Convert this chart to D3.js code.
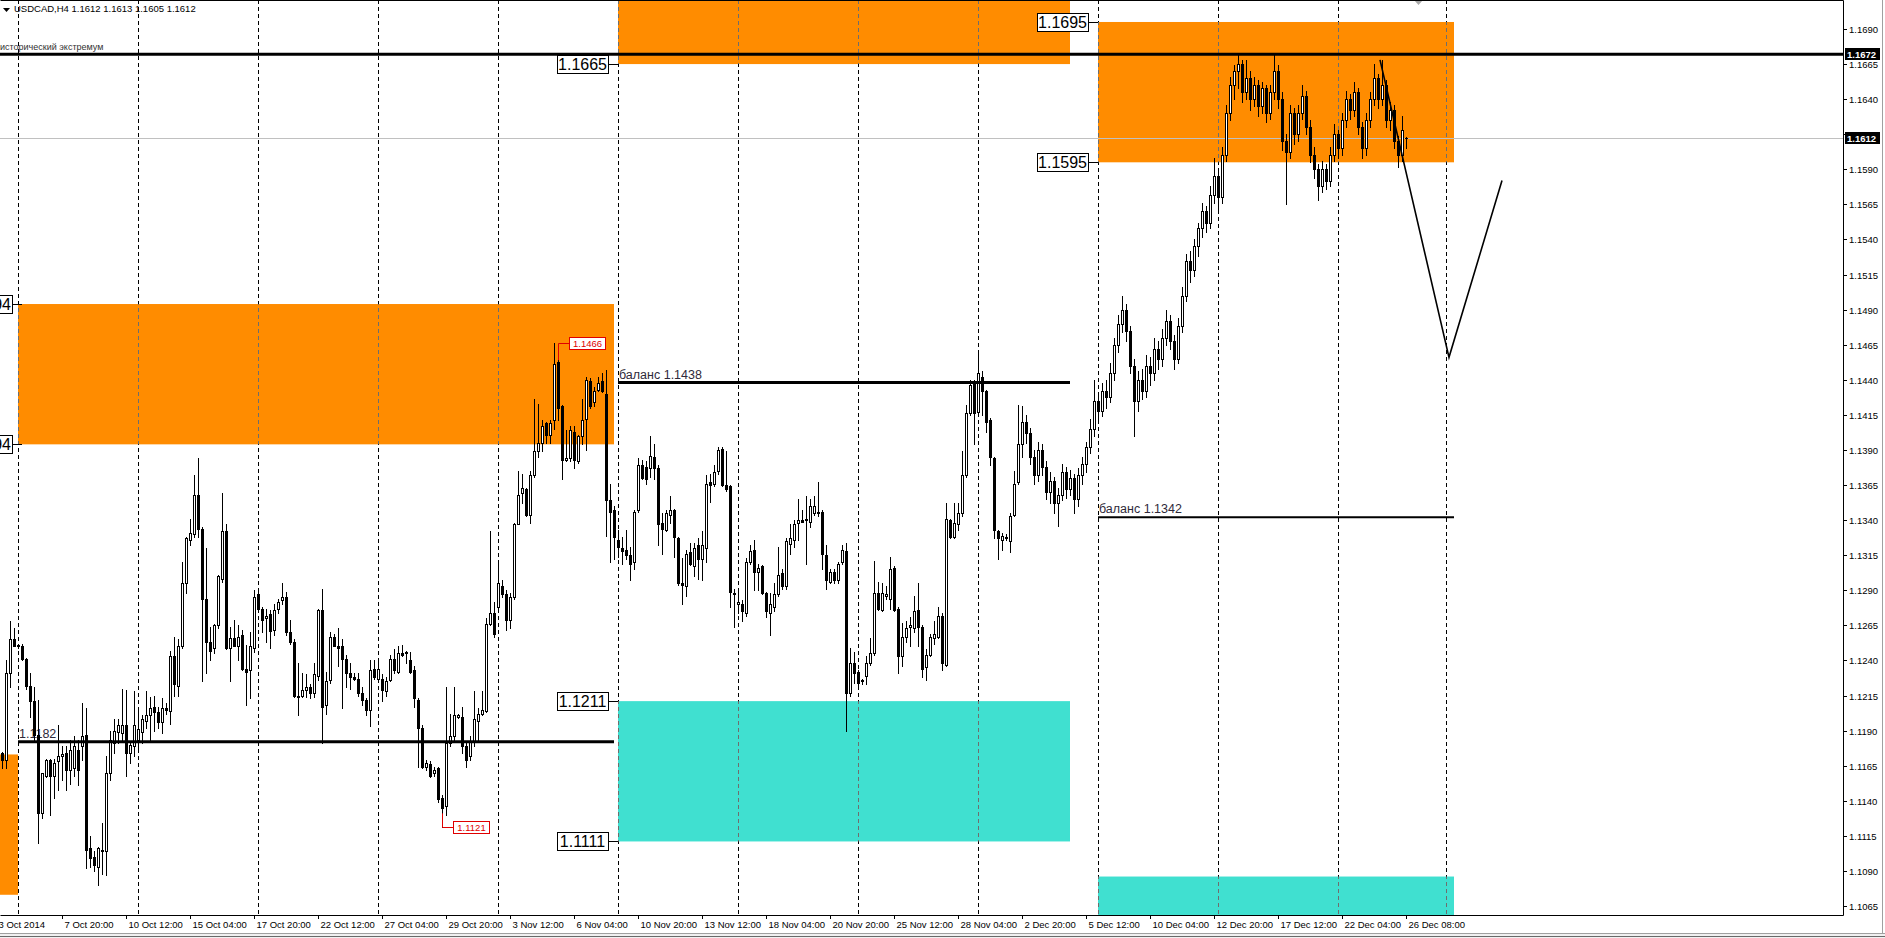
<!DOCTYPE html>
<html><head><meta charset="utf-8">
<script src="https://cdn.jsdelivr.net/npm/d3@7"></script>
<style>
html,body{margin:0;padding:0;background:#fff;overflow:hidden;}
svg{display:block;}
text{font-family:"Liberation Sans",Arial,sans-serif;}
</style></head><body>
<svg id="chart" width="1885" height="938"></svg>
<script>
// USDCAD H4 candles, bar 0 = 3 Oct 2014 08:00, last bar = 26 Dec 2014 08:00
const opens = [1.1174,1.1169,1.1231,1.1255,1.1250,1.1250,1.1241,1.1222,1.1211,1.1187,
1.1131,1.1158,1.1169,1.1158,1.1168,1.1172,1.1174,1.1162,1.1163,1.1176,
1.1179,1.1187,1.1106,1.1100,1.1093,1.1105,1.1104,1.1160,1.1181,1.1189,
1.1188,1.1194,1.1174,1.1179,1.1183,1.1189,1.1197,1.1201,1.1207,1.1203,
1.1196,1.1206,1.1204,1.1243,1.1222,1.1250,1.1295,1.1326,1.1330,1.1358,
1.1334,1.1284,1.1253,1.1249,1.1265,1.1298,1.1332,1.1249,1.1256,1.1250,
1.1258,1.1234,1.1233,1.1249,1.1287,1.1277,1.1270,1.1273,1.1262,1.1277,
1.1283,1.1285,1.1260,1.1253,1.1215,1.1215,1.1219,1.1221,1.1217,1.1229,
1.1276,1.1208,1.1226,1.1257,1.1250,1.1250,1.1241,1.1231,1.1228,1.1227,
1.1217,1.1212,1.1205,1.1234,1.1227,1.1227,1.1218,1.1226,1.1241,1.1232,
1.1245,1.1245,1.1240,1.1233,1.1212,1.1192,1.1164,1.1166,1.1160,1.1163,
1.1142,1.1136,1.1181,1.1186,1.1200,1.1200,1.1179,1.1172,1.1182,1.1197,
1.1202,1.1204,1.1266,1.1274,1.1278,1.1293,1.1287,1.1269,1.1285,1.1337,
1.1359,1.1362,1.1344,1.1372,1.1389,1.1395,1.1409,1.1401,1.1411,1.1453,
1.1421,1.1383,1.1384,1.1403,1.1382,1.1400,1.1412,1.1439,1.1424,1.1433,
1.1439,1.1430,1.1354,1.1347,1.1326,1.1320,1.1319,1.1315,1.1310,1.1347,
1.1379,1.1378,1.1377,1.1385,1.1377,1.1338,1.1333,1.1344,1.1347,1.1327,
1.1295,1.1293,1.1317,1.1307,1.1322,1.1312,1.1320,1.1367,1.1366,1.1375,
1.1391,1.1365,1.1364,1.1288,1.1280,1.1280,1.1274,1.1310,1.1319,1.1303,
1.1307,1.1288,1.1274,1.1278,1.1287,1.1302,1.1293,1.1323,1.1326,1.1338,
1.1340,1.1340,1.1339,1.1345,1.1346,1.1346,1.1315,1.1296,1.1303,1.1297,
1.1310,1.1318,1.1217,1.1238,1.1232,1.1225,1.1229,1.1238,1.1245,1.1288,
1.1276,1.1286,1.1284,1.1306,1.1277,1.1243,1.1257,1.1264,1.1263,1.1276,
1.1264,1.1235,1.1244,1.1256,1.1257,1.1272,1.1237,1.1340,1.1328,1.1337,
1.1345,1.1372,1.1416,1.1438,1.1417,1.1442,1.1432,1.1411,1.1384,1.1332,
1.1326,1.1327,1.1325,1.1344,1.1367,1.1394,1.1410,1.1402,1.1385,1.1372,
1.1390,1.1378,1.1360,1.1368,1.1352,1.1358,1.1374,1.1362,1.1370,1.1355,
1.1372,1.1380,1.1392,1.1405,1.1425,1.1418,1.1432,1.1428,1.1445,1.1465,
1.1480,1.1490,1.1475,1.1450,1.1425,1.1440,1.1432,1.1450,1.1445,1.1462,
1.1455,1.1470,1.1482,1.1468,1.1455,1.1478,1.1500,1.1525,1.1518,1.1535,
1.1548,1.1560,1.1552,1.1572,1.1585,1.1570,1.1600,1.1630,1.1650,1.1660,
1.1665,1.1645,1.1655,1.1640,1.1650,1.1635,1.1648,1.1630,1.1645,1.1660,
1.1640,1.1610,1.1602,1.1630,1.1615,1.1630,1.1642,1.1620,1.1600,1.1590,
1.1578,1.1590,1.1582,1.1600,1.1615,1.1605,1.1625,1.1640,1.1632,1.1645,
1.1620,1.1605,1.1625,1.1640,1.1655,1.1640,1.1650,1.1625,1.1632,1.1610,
1.1600,1.1612];
const highs = [1.1175,1.1240,1.1268,1.1263,1.1252,1.1252,1.1242,1.1231,1.1221,1.1212,
1.1160,1.1170,1.1170,1.1170,1.1194,1.1179,1.1179,1.1183,1.1186,1.1183,
1.1210,1.1206,1.1115,1.1104,1.1107,1.1124,1.1172,1.1190,1.1198,1.1198,
1.1220,1.1219,1.1181,1.1218,1.1205,1.1201,1.1218,1.1214,1.1215,1.1207,
1.1213,1.1210,1.1247,1.1257,1.1255,1.1310,1.1328,1.1341,1.1372,1.1384,
1.1335,1.1320,1.1264,1.1266,1.1301,1.1359,1.1337,1.1264,1.1269,1.1265,
1.1262,1.1251,1.1260,1.1290,1.1291,1.1278,1.1277,1.1276,1.1280,1.1284,
1.1295,1.1289,1.1269,1.1255,1.1238,1.1231,1.1230,1.1223,1.1238,1.1277,
1.1291,1.1232,1.1260,1.1259,1.1263,1.1255,1.1244,1.1238,1.1231,1.1231,
1.1221,1.1213,1.1240,1.1240,1.1241,1.1230,1.1228,1.1244,1.1248,1.1250,
1.1251,1.1247,1.1246,1.1236,1.1213,1.1194,1.1169,1.1168,1.1164,1.1164,
1.1144,1.1221,1.1202,1.1221,1.1202,1.1207,1.1181,1.1186,1.1218,1.1206,
1.1218,1.1270,1.1332,1.1282,1.1310,1.1297,1.1290,1.1288,1.1338,1.1375,
1.1373,1.1363,1.1375,1.1426,1.1423,1.1411,1.1410,1.1411,1.1466,1.1454,
1.1422,1.1404,1.1407,1.1407,1.1401,1.1426,1.1442,1.1441,1.1435,1.1442,
1.1445,1.1447,1.1366,1.1350,1.1333,1.1328,1.1333,1.1321,1.1347,1.1384,
1.1383,1.1382,1.1400,1.1394,1.1379,1.1345,1.1347,1.1357,1.1348,1.1328,
1.1313,1.1319,1.1324,1.1324,1.1327,1.1332,1.1372,1.1373,1.1379,1.1392,
1.1392,1.1389,1.1365,1.1291,1.1290,1.1283,1.1313,1.1322,1.1326,1.1309,
1.1308,1.1289,1.1288,1.1295,1.1321,1.1305,1.1327,1.1337,1.1340,1.1355,
1.1347,1.1357,1.1355,1.1357,1.1367,1.1347,1.1322,1.1305,1.1305,1.1310,
1.1322,1.1324,1.1249,1.1246,1.1233,1.1227,1.1243,1.1256,1.1311,1.1296,
1.1295,1.1293,1.1314,1.1307,1.1278,1.1267,1.1268,1.1271,1.1286,1.1295,
1.1265,1.1248,1.1259,1.1268,1.1278,1.1274,1.1352,1.1341,1.1352,1.1352,
1.1389,1.1422,1.1440,1.1440,1.1459,1.1446,1.1433,1.1413,1.1385,1.1333,
1.1331,1.1330,1.1345,1.1375,1.1422,1.1421,1.1415,1.1406,1.1390,1.1396,
1.1394,1.1382,1.1374,1.1371,1.1363,1.1380,1.1378,1.1376,1.1373,1.1377,
1.1385,1.1396,1.1412,1.1440,1.1430,1.1438,1.1440,1.1452,1.1470,1.1486,
1.1500,1.1494,1.1478,1.1455,1.1446,1.1448,1.1458,1.1456,1.1470,1.1468,
1.1476,1.1490,1.1486,1.1472,1.1484,1.1506,1.1530,1.1532,1.1540,1.1552,
1.1566,1.1564,1.1578,1.1598,1.1590,1.1606,1.1636,1.1656,1.1664,1.1672,
1.1668,1.1668,1.1660,1.1656,1.1654,1.1652,1.1650,1.1650,1.1672,1.1664,
1.1645,1.1615,1.1636,1.1634,1.1636,1.1650,1.1646,1.1625,1.1606,1.1594,
1.1596,1.1594,1.1606,1.1622,1.1618,1.1630,1.1646,1.1644,1.1652,1.1648,
1.1624,1.1630,1.1645,1.1665,1.1658,1.1668,1.1654,1.1638,1.1636,1.1614,
1.1628,1.1613];
const lows = [1.1163,1.1163,1.1221,1.1250,1.1249,1.1240,1.1220,1.1200,1.1183,1.1110,
1.1128,1.1157,1.1130,1.1142,1.1148,1.1155,1.1148,1.1152,1.1158,1.1151,
1.1169,1.1092,1.1093,1.1090,1.1080,1.1088,1.1087,1.1155,1.1174,1.1181,
1.1183,1.1158,1.1167,1.1172,1.1176,1.1181,1.1192,1.1183,1.1190,1.1192,
1.1188,1.1202,1.1195,1.1215,1.1215,1.1249,1.1288,1.1322,1.1328,1.1328,
1.1225,1.1231,1.1240,1.1245,1.1263,1.1296,1.1248,1.1225,1.1250,1.1240,
1.1233,1.1208,1.1213,1.1246,1.1276,1.1260,1.1253,1.1249,1.1258,1.1274,
1.1280,1.1258,1.1252,1.1214,1.1201,1.1214,1.1214,1.1213,1.1214,1.1226,
1.1181,1.1202,1.1224,1.1250,1.1236,1.1206,1.1221,1.1220,1.1226,1.1215,
1.1208,1.1201,1.1193,1.1227,1.1226,1.1211,1.1215,1.1225,1.1231,1.1231,
1.1243,1.1238,1.1231,1.1207,1.1164,1.1163,1.1162,1.1157,1.1158,1.1139,
1.1121,1.1130,1.1179,1.1183,1.1199,1.1174,1.1164,1.1169,1.1179,1.1183,
1.1201,1.1203,1.1265,1.1257,1.1276,1.1285,1.1262,1.1263,1.1284,1.1337,
1.1352,1.1343,1.1338,1.1371,1.1385,1.1389,1.1395,1.1395,1.1405,1.1411,
1.1369,1.1382,1.1382,1.1377,1.1381,1.1394,1.1390,1.1420,1.1421,1.1432,
1.1431,1.1329,1.1310,1.1312,1.1314,1.1309,1.1312,1.1297,1.1305,1.1346,
1.1369,1.1366,1.1371,1.1369,1.1322,1.1316,1.1332,1.1338,1.1314,1.1294,
1.1280,1.1286,1.1308,1.1300,1.1298,1.1297,1.1310,1.1353,1.1364,1.1373,
1.1364,1.1361,1.1278,1.1264,1.1274,1.1268,1.1272,1.1309,1.1290,1.1290,
1.1287,1.1271,1.1258,1.1275,1.1286,1.1291,1.1291,1.1316,1.1321,1.1326,
1.1339,1.1309,1.1335,1.1344,1.1343,1.1305,1.1291,1.1295,1.1295,1.1295,
1.1309,1.1190,1.1215,1.1224,1.1221,1.1223,1.1223,1.1237,1.1244,1.1276,
1.1275,1.1284,1.1277,1.1275,1.1231,1.1236,1.1253,1.1250,1.1260,1.1250,
1.1228,1.1226,1.1243,1.1252,1.1256,1.1233,1.1236,1.1327,1.1327,1.1333,
1.1343,1.1371,1.1415,1.1394,1.1416,1.1415,1.1403,1.1379,1.1327,1.1312,
1.1319,1.1326,1.1317,1.1343,1.1366,1.1385,1.1395,1.1380,1.1366,1.1368,
1.1372,1.1355,1.1352,1.1345,1.1336,1.1354,1.1356,1.1358,1.1345,1.1350,
1.1366,1.1374,1.1388,1.1400,1.1410,1.1414,1.1420,1.1424,1.1440,1.1460,
1.1474,1.1468,1.1445,1.1400,1.1418,1.1426,1.1428,1.1436,1.1440,1.1448,
1.1450,1.1465,1.1462,1.1448,1.1452,1.1474,1.1496,1.1510,1.1514,1.1528,
1.1542,1.1545,1.1548,1.1566,1.1562,1.1566,1.1596,1.1625,1.1640,1.1648,
1.1638,1.1640,1.1632,1.1635,1.1628,1.1630,1.1624,1.1626,1.1640,1.1634,
1.1604,1.1565,1.1598,1.1608,1.1610,1.1626,1.1615,1.1595,1.1584,1.1568,
1.1574,1.1576,1.1578,1.1596,1.1598,1.1600,1.1620,1.1626,1.1628,1.1615,
1.1598,1.1600,1.1620,1.1636,1.1634,1.1636,1.1620,1.1618,1.1605,1.1592,
1.1596,1.1605];
const closes = [1.1169,1.1231,1.1255,1.1250,1.1251,1.1241,1.1222,1.1211,1.1187,1.1131,
1.1160,1.1169,1.1158,1.1167,1.1172,1.1173,1.1162,1.1176,1.1179,1.1162,
1.1186,1.1105,1.1099,1.1094,1.1106,1.1104,1.1160,1.1183,1.1190,1.1194,
1.1194,1.1174,1.1180,1.1194,1.1191,1.1198,1.1201,1.1206,1.1203,1.1196,
1.1206,1.1205,1.1243,1.1223,1.1250,1.1295,1.1327,1.1331,1.1358,1.1334,
1.1284,1.1253,1.1247,1.1265,1.1300,1.1332,1.1249,1.1256,1.1250,1.1257,
1.1234,1.1232,1.1250,1.1285,1.1277,1.1269,1.1272,1.1261,1.1276,1.1282,
1.1285,1.1260,1.1253,1.1215,1.1214,1.1219,1.1221,1.1217,1.1230,1.1276,
1.1207,1.1225,1.1257,1.1250,1.1249,1.1241,1.1231,1.1228,1.1227,1.1217,
1.1212,1.1205,1.1233,1.1228,1.1234,1.1219,1.1225,1.1241,1.1233,1.1245,
1.1244,1.1246,1.1232,1.1213,1.1192,1.1164,1.1167,1.1158,1.1162,1.1141,
1.1135,1.1181,1.1186,1.1201,1.1201,1.1179,1.1169,1.1182,1.1198,1.1202,
1.1205,1.1266,1.1274,1.1259,1.1295,1.1287,1.1269,1.1285,1.1337,1.1358,
1.1363,1.1344,1.1372,1.1389,1.1395,1.1407,1.1401,1.1409,1.1451,1.1420,
1.1383,1.1384,1.1404,1.1383,1.1400,1.1411,1.1440,1.1421,1.1432,1.1438,
1.1432,1.1354,1.1346,1.1328,1.1321,1.1318,1.1315,1.1309,1.1346,1.1379,
1.1370,1.1369,1.1386,1.1377,1.1337,1.1334,1.1345,1.1347,1.1328,1.1295,
1.1294,1.1316,1.1309,1.1320,1.1312,1.1322,1.1366,1.1365,1.1374,1.1390,
1.1365,1.1362,1.1289,1.1287,1.1282,1.1275,1.1310,1.1318,1.1303,1.1306,
1.1288,1.1275,1.1280,1.1287,1.1301,1.1293,1.1325,1.1327,1.1337,1.1340,
1.1339,1.1341,1.1350,1.1350,1.1345,1.1316,1.1297,1.1303,1.1297,1.1309,
1.1319,1.1217,1.1238,1.1231,1.1224,1.1226,1.1238,1.1245,1.1288,1.1277,
1.1288,1.1287,1.1305,1.1276,1.1243,1.1257,1.1263,1.1265,1.1275,1.1264,
1.1234,1.1244,1.1257,1.1259,1.1272,1.1238,1.1341,1.1328,1.1338,1.1345,
1.1372,1.1416,1.1436,1.1416,1.1445,1.1432,1.1410,1.1385,1.1333,1.1327,
1.1329,1.1328,1.1343,1.1366,1.1394,1.1410,1.1402,1.1385,1.1372,1.1390,
1.1378,1.1360,1.1368,1.1352,1.1358,1.1374,1.1362,1.1370,1.1355,1.1372,
1.1380,1.1392,1.1405,1.1425,1.1418,1.1432,1.1428,1.1445,1.1465,1.1480,
1.1490,1.1475,1.1450,1.1425,1.1440,1.1432,1.1450,1.1445,1.1462,1.1455,
1.1470,1.1482,1.1468,1.1455,1.1478,1.1500,1.1525,1.1518,1.1535,1.1548,
1.1560,1.1552,1.1572,1.1585,1.1570,1.1600,1.1630,1.1650,1.1660,1.1665,
1.1645,1.1655,1.1640,1.1650,1.1635,1.1648,1.1630,1.1645,1.1660,1.1640,
1.1610,1.1602,1.1630,1.1615,1.1630,1.1642,1.1620,1.1600,1.1590,1.1578,
1.1590,1.1582,1.1600,1.1615,1.1605,1.1625,1.1640,1.1632,1.1645,1.1620,
1.1605,1.1625,1.1640,1.1655,1.1640,1.1650,1.1625,1.1632,1.1610,1.1600,
1.1618,1.1612];

// price axis
const priceTicks = ["1.1690","1.1665","1.1640","1.1615","1.1590","1.1565","1.1540","1.1515","1.1490","1.1465",
"1.1440","1.1415","1.1390","1.1365","1.1340","1.1315","1.1290","1.1265","1.1240","1.1215","1.1190",
"1.1165","1.1140","1.1115","1.1090","1.1065"];
// time axis: bar index and label
const timeTickBars = [15,31,47,63,79,95,111,127,143,159,175,191,207,223,239,255,271,287,303,319,335,351];
const timeTickLabels = ["7 Oct 20:00","10 Oct 12:00","15 Oct 04:00","17 Oct 20:00","22 Oct 12:00","27 Oct 04:00",
"29 Oct 20:00","3 Nov 12:00","6 Nov 04:00","10 Nov 20:00","13 Nov 12:00","18 Nov 04:00","20 Nov 20:00",
"25 Nov 12:00","28 Nov 04:00","2 Dec 20:00","5 Dec 12:00","10 Dec 04:00","12 Dec 20:00","17 Dec 12:00",
"22 Dec 04:00","26 Dec 08:00"];
const firstDateLabel = "3 Oct 2014";
// weekly separators (bar index)
const gridBars = [4,34,64,94,124,154,184,214,244,274,304,334,361];

// supply / demand zones
const zoneFrom  = [-6, 4, 154, 274, 154, 274];
const zoneTo    = [4, 153, 267, 363, 267, 363];
const zoneUpper = [1.1173, 1.1494, 1.1765, 1.1695, 1.1211, 1.1086];
const zoneLower = [1.1073, 1.1394, 1.1665, 1.1595, 1.1111, 1.0986];
const zoneKind  = ["supply","supply","supply","supply","demand","demand"];
// price tags on zone edges
const tagBars   = [4, 4, 154, 274, 274, 154, 154];
const tagPrices = [1.1494, 1.1394, 1.1665, 1.1695, 1.1595, 1.1211, 1.1111];

// horizontal levels
const levelFrom  = [4, 154, 274];
const levelTo    = [153, 267, 363];
const levelPrice = [1.1182, 1.1438, 1.1342];
const levelText  = ["1.1182", "баланс 1.1438", "баланс 1.1342"];

const historicExtreme = 1.1672;
const historicText = "исторический экстремум";
const bidPrice = 1.1612;
const headerText = "USDCAD,H4  1.1612 1.1613 1.1605 1.1612";

// extreme markers
const markBars  = [139, 110];
const markFrom  = [1.1454, 1.1131];
const markPrice = [1.1466, 1.1121];

// projected path
const pathBars   = [344.5, 361.75, 375];
const pathPrices = [1.1668, 1.1456, 1.1582];

// ---------------------------------------------------------------------------
const plotW = 1843, plotH = 915;
const svg = d3.select("#chart");
const x = d3.scaleLinear().domain([0, 1]).range([2, 6]);
const y = d3.scaleLinear().domain([1.1690, 1.1065]).range([29, 906]);
const fmt = d3.format(".4f");

const defs = svg.append("defs");
defs.append("clipPath").attr("id", "plotClip")
  .append("rect").attr("x", 0).attr("y", 0).attr("width", plotW).attr("height", plotH);
const zoneClip = defs.append("clipPath").attr("id", "zoneClip");

svg.append("rect").attr("width", 1885).attr("height", 938).attr("fill", "#fff");

const plot = svg.append("g").attr("clip-path", "url(#plotClip)");

// zones
const zoneColor = {supply: "#ff8c00", demand: "#40e0d0"};
zoneFrom.forEach((f, k) => {
  const r = {x: x(f), y: y(zoneUpper[k]), w: x(zoneTo[k]) - x(f), h: y(zoneLower[k]) - y(zoneUpper[k])};
  plot.append("rect").attr("x", r.x).attr("y", r.y).attr("width", r.w).attr("height", r.h)
    .attr("fill", zoneColor[zoneKind[k]]);
  zoneClip.append("rect").attr("x", r.x).attr("y", r.y).attr("width", r.w).attr("height", r.h);
});

// weekly separators: black on white, grey over the zones
const gridG = plot.append("g");
gridBars.forEach(b => {
  gridG.append("line").attr("x1", Math.round(x(b)) + 0.5).attr("x2", Math.round(x(b)) + 0.5)
    .attr("y1", 0).attr("y2", plotH).attr("stroke", "#000").attr("stroke-dasharray", "4,3");
});
const gridZ = plot.append("g").attr("clip-path", "url(#zoneClip)");
gridBars.forEach(b => {
  gridZ.append("line").attr("x1", Math.round(x(b)) + 0.5).attr("x2", Math.round(x(b)) + 0.5)
    .attr("y1", 0).attr("y2", plotH).attr("stroke", "#6e6e6e").attr("stroke-dasharray", "4,3");
});

// bid line
plot.append("line").attr("x1", 0).attr("x2", plotW)
  .attr("y1", Math.round(y(bidPrice)) + 0.5).attr("y2", Math.round(y(bidPrice)) + 0.5)
  .attr("stroke", "#c0c0c0");

// level captions (beneath candles)
levelFrom.forEach((f, k) => {
  plot.append("text").attr("x", x(f) + 1).attr("y", y(levelPrice[k]) - 4)
    .attr("font-size", 12.5).attr("fill", "#2f2a3a").text(levelText[k]);
});

// candles
const candles = plot.append("g");
opens.forEach((o, i) => {
  const c = closes[i];
  const hi = Math.max(highs[i], o, c), lo = Math.min(lows[i], o, c);
  const cx = Math.round(x(i));
  const yh = Math.round(y(hi)), yl = Math.round(y(lo));
  candles.append("line").attr("x1", cx + 0.5).attr("x2", cx + 0.5).attr("y1", yh).attr("y2", yl + 1)
    .attr("stroke", "#000");
  const top = Math.round(y(Math.max(o, c))), bot = Math.round(y(Math.min(o, c)));
  if (bot - top < 1) {
    candles.append("rect").attr("x", cx - 1).attr("y", top).attr("width", 3).attr("height", 1).attr("fill", "#000");
  } else if (c > o) {
    candles.append("rect").attr("x", cx - 0.5).attr("y", top + 0.5).attr("width", 2).attr("height", bot - top)
      .attr("fill", "#fff").attr("stroke", "#000");
  } else {
    candles.append("rect").attr("x", cx - 1).attr("y", top).attr("width", 3).attr("height", bot - top + 1)
      .attr("fill", "#000");
  }
});

// historic extreme line
plot.append("line").attr("x1", 0).attr("x2", plotW)
  .attr("y1", y(historicExtreme)).attr("y2", y(historicExtreme)).attr("stroke", "#000").attr("stroke-width", 3);
plot.append("text").attr("x", 0).attr("y", y(historicExtreme) - 4)
  .attr("font-size", 9).attr("fill", "#333").text(historicText);

// balance / level lines
levelFrom.forEach((f, k) => {
  plot.append("line").attr("x1", x(f)).attr("x2", x(levelTo[k]))
    .attr("y1", y(levelPrice[k])).attr("y2", y(levelPrice[k]))
    .attr("stroke", "#000").attr("stroke-width", k === 2 ? 2 : 3);
});

// projected path
plot.append("path")
  .attr("d", d3.line()(pathBars.map((b, k) => [x(b), y(pathPrices[k])])))
  .attr("fill", "none").attr("stroke", "#000").attr("stroke-width", 1.6);

// zone edge price tags
tagBars.forEach((b, k) => {
  const yy = Math.round(y(tagPrices[k])) + 0.5;
  const right = Math.round(x(b)) - (b < 10 ? 6 : 10);
  plot.append("line").attr("x1", right).attr("x2", x(b) + (b < 10 ? 4 : 0)).attr("y1", yy).attr("y2", yy).attr("stroke", "#000");
  plot.append("rect").attr("x", right - 51 + 0.5).attr("y", yy - 9).attr("width", 51).attr("height", 18)
    .attr("fill", "#fff").attr("stroke", "#000");
  plot.append("text").attr("x", right - 25.5).attr("y", yy + 5.5).attr("text-anchor", "middle")
    .attr("font-family", "Liberation Serif, Times New Roman, serif").attr("font-size", 16)
    .attr("fill", "#000").text(fmt(tagPrices[k]));
});

// extreme markers
markBars.forEach((b, k) => {
  const lx = Math.round(x(b)) + 0.5;
  const ly = Math.round(y(markPrice[k])) + 0.5;
  plot.append("path").attr("d", `M${lx},${y(markFrom[k])}V${ly}H${lx + 11}`)
    .attr("fill", "none").attr("stroke", "#e00000");
  plot.append("rect").attr("x", lx + 11).attr("y", ly - 6).attr("width", 36).attr("height", 12)
    .attr("fill", "#fff").attr("stroke", "#e00000");
  plot.append("text").attr("x", lx + 29).attr("y", ly + 3.5).attr("text-anchor", "middle")
    .attr("font-family", "DejaVu Sans Mono, monospace").attr("font-size", 9.5)
    .attr("fill", "#e00000").text(fmt(markPrice[k]));
});

// header
svg.append("path").attr("d", "M3,8h7l-3.5,4z").attr("fill", "#000");
svg.append("text").attr("x", 14).attr("y", 12).attr("font-size", 9.5).attr("fill", "#000").text(headerText);
// chart shift marker
svg.append("path").attr("d", "M1414,0h9l-4.5,5z").attr("fill", "#a9a9a9");

// frame
svg.append("path").attr("d", `M0.5,0.5H${plotW + 0.5}V${plotH + 0.5}H0.5`).attr("fill", "none").attr("stroke", "#000");

// price axis
priceTicks.forEach(t => {
  const p = +t, yy = Math.round(y(p)) + 0.5;
  svg.append("line").attr("x1", plotW).attr("x2", plotW + 4).attr("y1", yy).attr("y2", yy).attr("stroke", "#000");
  svg.append("text").attr("x", plotW + 6).attr("y", yy + 3.5).attr("font-size", 9.5).attr("fill", "#000").text(t);
});
[historicExtreme, bidPrice].forEach(p => {
  const yy = Math.round(y(p));
  svg.append("rect").attr("x", plotW + 2).attr("y", yy - 6).attr("width", 35).attr("height", 12).attr("fill", "#000");
  svg.append("text").attr("x", plotW + 4).attr("y", yy + 4).attr("font-size", 9.5).attr("font-weight", "bold")
    .attr("fill", "#fff").text(fmt(p));
});

// time axis
timeTickBars.forEach((b, k) => {
  const xx = Math.round(x(b)) + 0.5;
  svg.append("line").attr("x1", xx).attr("x2", xx).attr("y1", plotH).attr("y2", plotH + 4).attr("stroke", "#000");
  svg.append("text").attr("x", xx + 2).attr("y", plotH + 13).attr("font-size", 9.5).attr("fill", "#000").text(timeTickLabels[k]);
});
svg.append("text").attr("x", 45).attr("y", plotH + 13).attr("text-anchor", "end").attr("font-size", 9.5)
  .attr("fill", "#000").text(firstDateLabel);

// window edges
svg.append("line").attr("x1", 1882.5).attr("x2", 1882.5).attr("y1", 0).attr("y2", 933).attr("stroke", "#a0a0a0");
svg.append("rect").attr("x", 0).attr("y", 933).attr("width", 1885).attr("height", 5).attr("fill", "#f0f0f0");
svg.append("line").attr("x1", 0).attr("x2", 1885).attr("y1", 933.5).attr("y2", 933.5).attr("stroke", "#a0a0a0");
svg.append("line").attr("x1", 0).attr("x2", 1885).attr("y1", 936.5).attr("y2", 936.5).attr("stroke", "#696969");
</script>
</body></html>
